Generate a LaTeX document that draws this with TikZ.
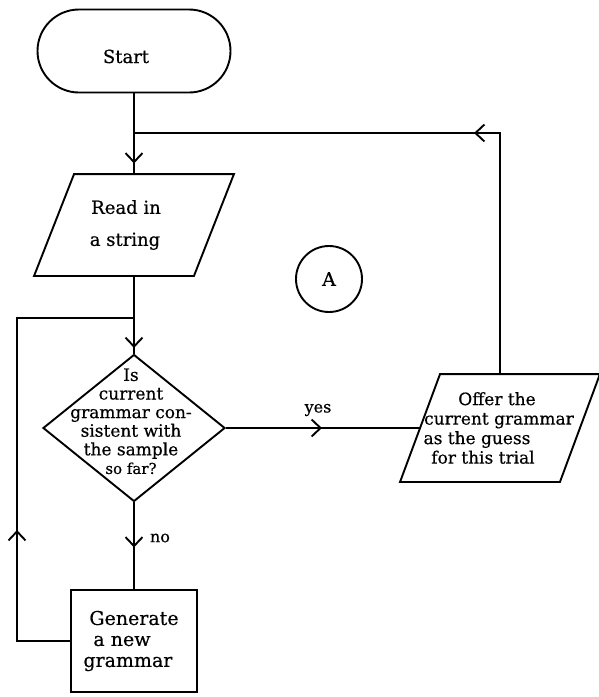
\documentclass[tikz,border=0pt]{standalone}
\usepackage{fontspec}
\setmainfont[FakeBold=0.5]{DejaVu Serif}
\usetikzlibrary{shapes.geometric,shapes.misc,arrows.meta,decorations.markings}
\begin{document}
\begin{tikzpicture}[x=1pt,y=-1pt,
  line width=1.9pt,
  every node/.style={font=\fontsize{18}{20}\selectfont},
  terminal/.style={draw, rounded rectangle, minimum width=193pt, minimum height=83pt, inner sep=0pt},
  iobox/.style={minimum width=158pt, minimum height=#1, inner sep=0pt, align=center},
  decision/.style={draw, diamond, minimum width=182pt, minimum height=147pt, inner sep=0pt},
  process/.style={draw, rectangle, minimum width=126pt, minimum height=102pt, inner sep=0pt, align=left},
  connector/.style={draw, circle, minimum size=66pt, inner sep=0pt, font=\fontsize{19}{21}\selectfont},
  lbl/.style={inner sep=0pt, font=\fontsize{16}{18}\selectfont},
  barb/.style={postaction={decorate}, decoration={markings, mark=at position #1 with {\arrow{Straight Barb[length=9pt,width=17pt,line width=1.9pt]}}}}
]
\useasboundingbox (0,0) rectangle (599,697);

% nodes
\node[terminal] (start) at (134,51) {\raisebox{0pt}[0pt][0pt]{\makebox[0pt]{\kern-16pt\raisebox{-12pt}{Start}}}};
\node[iobox=100pt, font=\fontsize{18}{32}\selectfont] (read) at (134,225) {\kern-16pt Read in\\\kern-18pt a string};
\draw ([xshift=20pt]read.north west) -- ([xshift=20pt]read.north east) -- ([xshift=-20pt]read.south east) -- ([xshift=-20pt]read.south west) -- cycle;

\node[decision] (test) at (134,428) {\raisebox{0pt}[0pt][0pt]{\makebox[0pt]{\kern-6pt\fontsize{17}{18.6}\selectfont\begin{tabular}{@{}c@{}}Is\\current\\grammar con-\\sistent with\\the sample\\{\fontsize{15}{18.6}\selectfont so far?}\end{tabular}}}};

\node[process, font=\fontsize{19}{21}\selectfont] (gen) at (134,641) {Generate\\\kern4pt a new\\\kern-6pt grammar};

\node[iobox=106pt, font=\fontsize{17}{19.5}\selectfont] (offer) at (500,428) {\kern-6pt Offer the\\\kern-2pt current grammar\\\kern-46pt as the guess\\\kern-34pt for this trial};
\draw ([xshift=20pt]offer.north west) -- ([xshift=20pt]offer.north east) -- ([xshift=-20pt]offer.south east) -- ([xshift=-20pt]offer.south west) -- cycle;

\node[connector] (A) at (329,279) {A};

\coordinate (j1) at (134,133);
\coordinate (j2) at (134,318);
\coordinate (c2) at (17,318);

% connectors
\draw[barb=70pt] (start.south) -- (read.north);
\draw[barb=72pt] (read.south) -- (test.north);
\draw[barb=45pt] (test.south) -- (gen.north);
\draw[barb=164pt] (gen.west) -| (c2) -- (j2);
\draw[barb=96pt] (test.east) -- (offer.west);
\draw[barb=267pt] (offer.north) |- (j1);

\node[lbl] (yes) at (318,410) {yes};
\node[lbl] (no) at (160,538) {no};
\end{tikzpicture}
\end{document}
